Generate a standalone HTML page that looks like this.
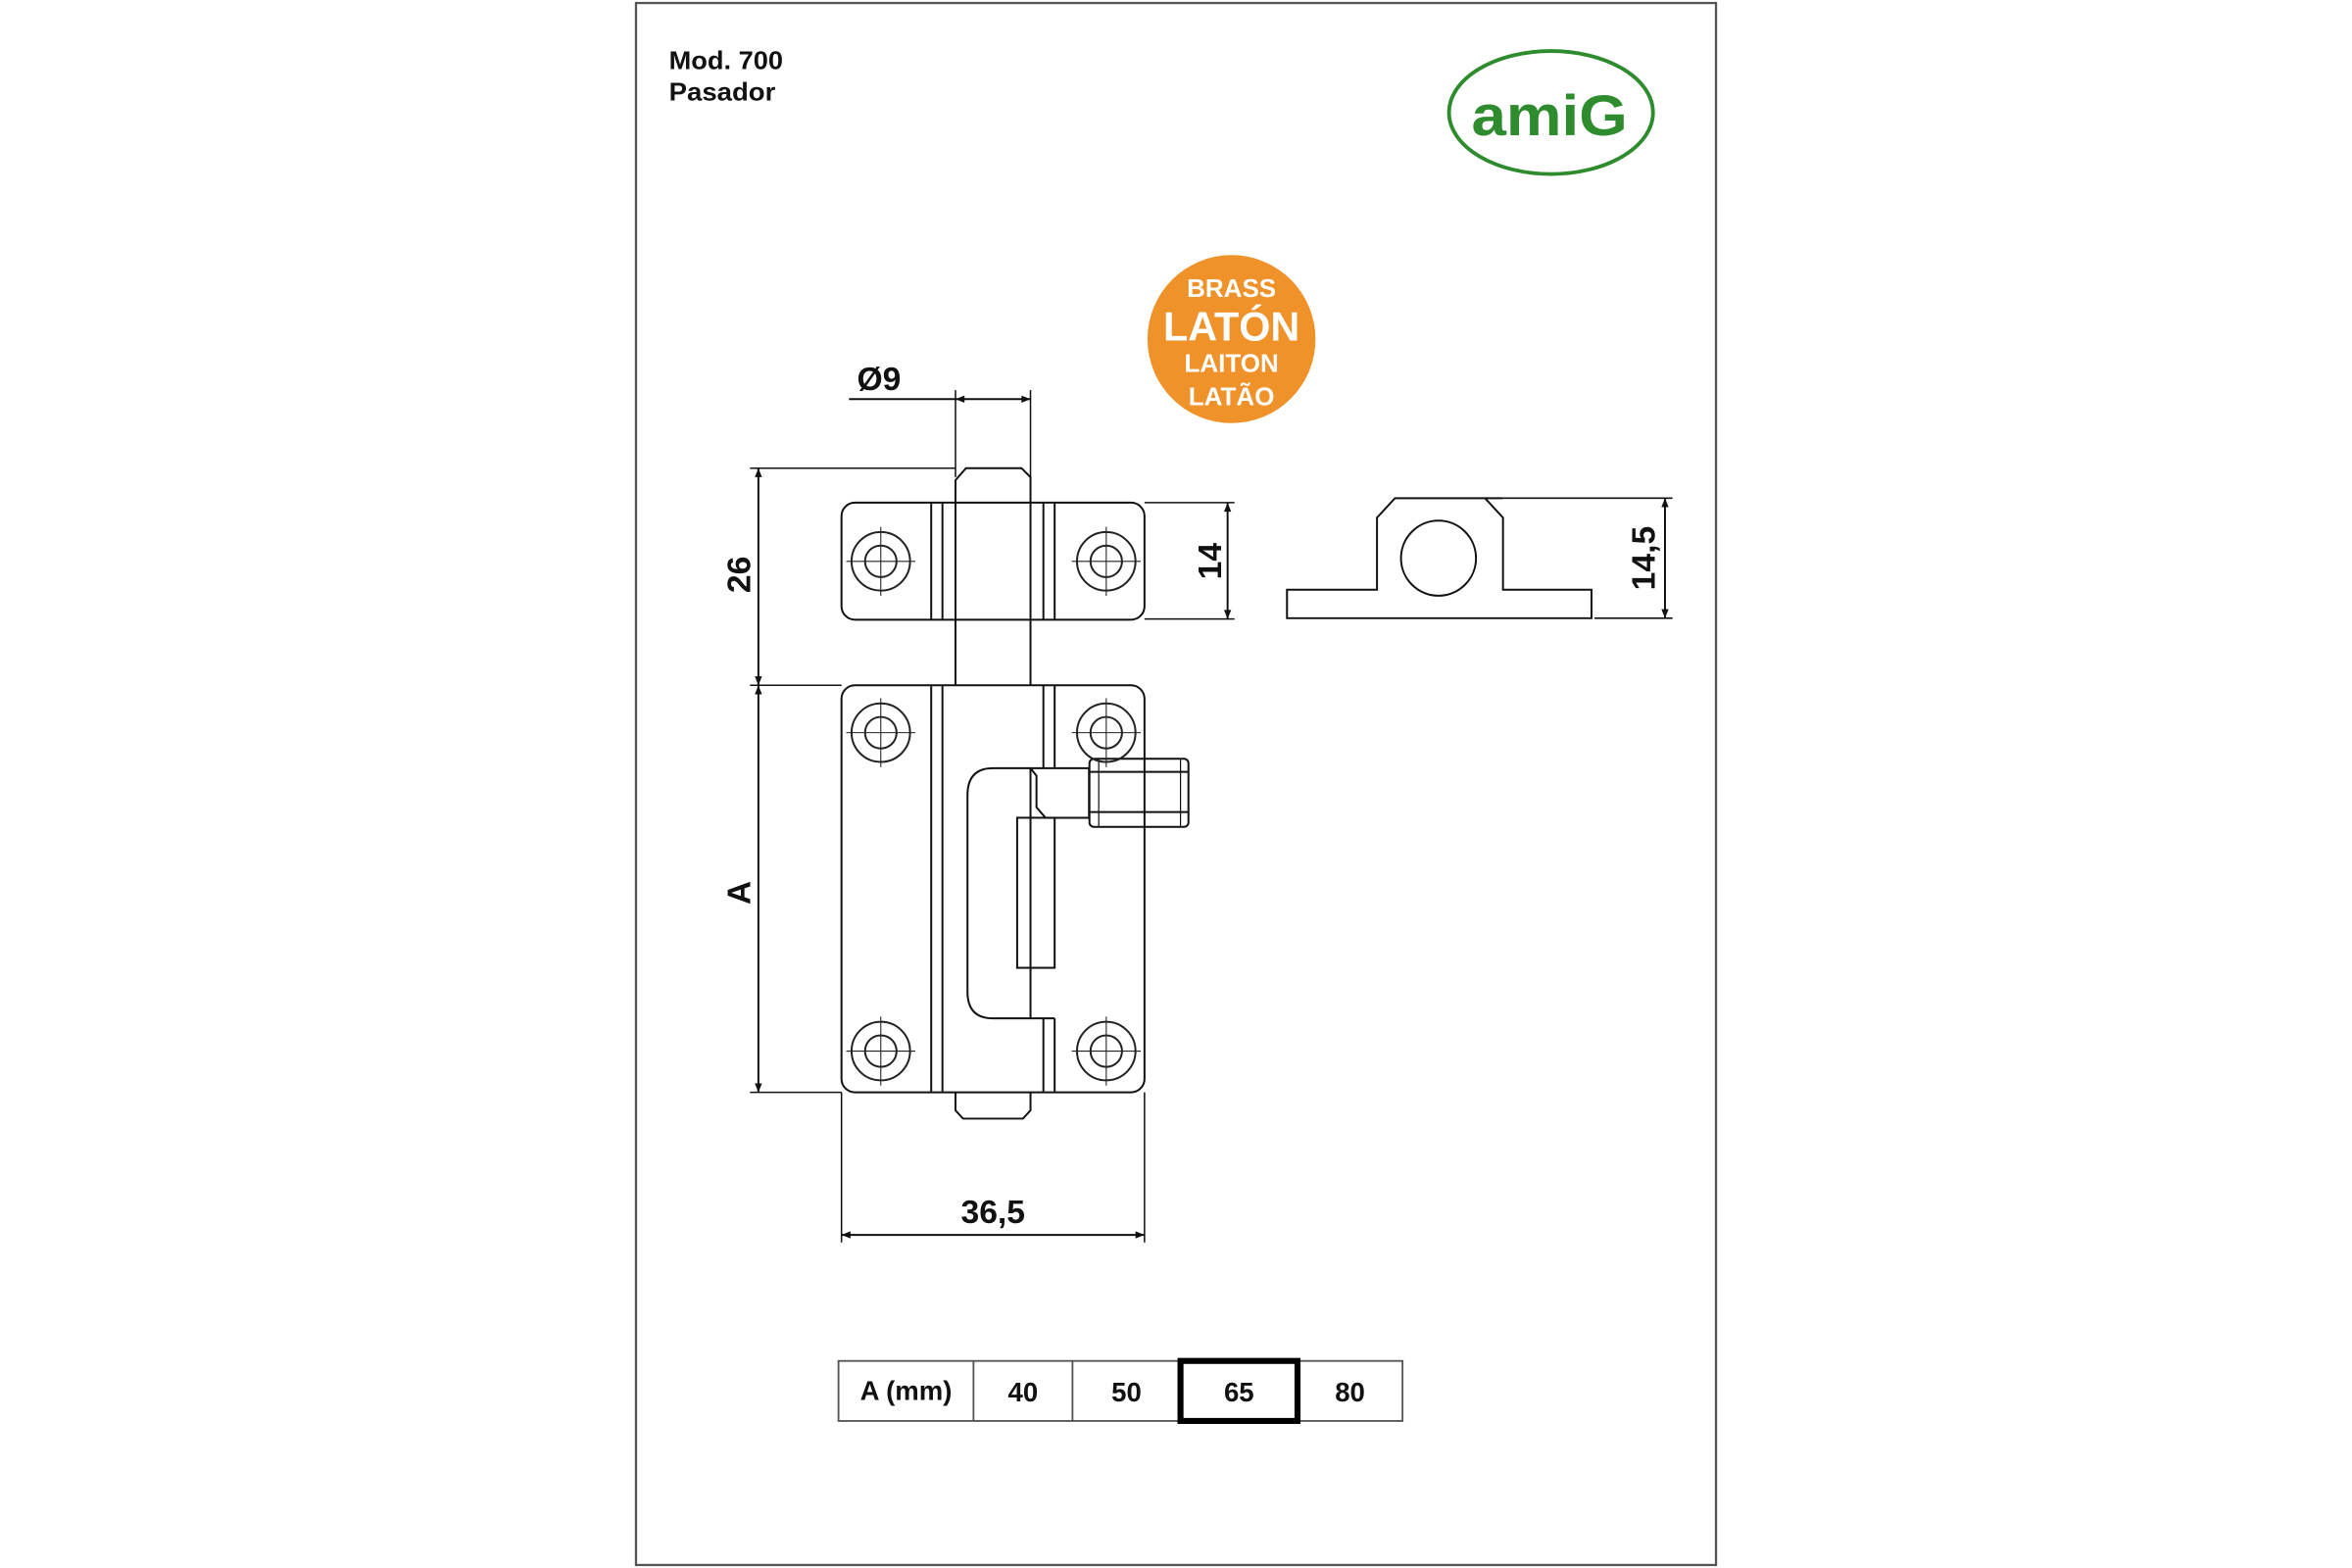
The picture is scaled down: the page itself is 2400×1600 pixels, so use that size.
<!DOCTYPE html>
<html><head><meta charset="utf-8"><style>
html,body{margin:0;padding:0;background:#fff;}
svg{display:block;}
text{font-family:"Liberation Sans",Arial,sans-serif;font-weight:bold;}
</style></head><body>
<svg width="2400" height="1600" viewBox="0 0 1568 1045" preserveAspectRatio="none" xmlns="http://www.w3.org/2000/svg">
<defs>
<marker id="ar" viewBox="0 0 10 10" refX="10" refY="5" markerWidth="8" markerHeight="6" orient="auto-start-reverse" markerUnits="userSpaceOnUse"><path d="M0,1 L10,5 L0,9 z" fill="#111"/></marker>
<g id="hole" fill="none" stroke="#222">
<circle r="19.5" stroke-width="1.3"/><circle r="10.5" stroke-width="1.3"/>
<line x1="-23" y1="0" x2="23" y2="0" stroke-width="0.7"/><line x1="0" y1="-23" x2="0" y2="23" stroke-width="0.7"/>
</g>
</defs>
<rect x="424" y="2" width="720" height="1041" fill="none" stroke="#555" stroke-width="1.5"/>
<text x="446" y="46" font-size="17" fill="#111" textLength="76" lengthAdjust="spacingAndGlyphs">Mod. 700</text>
<text x="446" y="67" font-size="17" fill="#111" textLength="71" lengthAdjust="spacingAndGlyphs">Pasador</text>
<ellipse cx="1034" cy="75" rx="68" ry="41" fill="none" stroke="#2e8b2e" stroke-width="2.5"/>
<text x="1033" y="90" font-size="38" fill="#2e8b2e" text-anchor="middle" textLength="104" lengthAdjust="spacingAndGlyphs">amiG</text>
<circle cx="821" cy="226" r="56" fill="#f0922a"/>
<text x="821" y="198" font-size="17" fill="#fff" text-anchor="middle" font-weight="normal">BRASS</text>
<text x="821" y="227" font-size="27" fill="#fff" text-anchor="middle">LATÓN</text>
<text x="821" y="248" font-size="17" fill="#fff" text-anchor="middle" font-weight="normal">LAITON</text>
<text x="821" y="270" font-size="17" fill="#fff" text-anchor="middle" font-weight="normal">LATÃO</text>
<g stroke="#111" fill="none" stroke-width="1.3">
<line x1="566" y1="266" x2="637" y2="266"/>
<line x1="637" y1="266" x2="687" y2="266" marker-start="url(#ar)" marker-end="url(#ar)"/>
<line x1="637" y1="260" x2="637" y2="318" stroke-width="1"/>
<line x1="687" y1="260" x2="687" y2="318" stroke-width="1"/>
<path d="M637,335 L637,320 L644,312 L681,312 L687,318 L687,335"/>
<line x1="637" y1="412" x2="637" y2="456.7"/>
<line x1="687" y1="412" x2="687" y2="456.7"/>
<rect x="561" y="335" width="202" height="78" rx="9"/>
<line x1="620.8" y1="335" x2="620.8" y2="413"/><line x1="628.3" y1="335" x2="628.3" y2="413"/>
<line x1="695.6" y1="335" x2="695.6" y2="413"/><line x1="703.1" y1="335" x2="703.1" y2="413"/>
<line x1="637" y1="335" x2="637" y2="413"/><line x1="687" y1="335" x2="687" y2="413"/>
<rect x="561" y="456.7" width="202" height="271.3" rx="9"/>
<line x1="620.8" y1="456.7" x2="620.8" y2="728"/><line x1="628.3" y1="456.7" x2="628.3" y2="728"/>
<line x1="695.6" y1="456.7" x2="695.6" y2="512"/><line x1="703.1" y1="456.7" x2="703.1" y2="512"/>
<line x1="695.6" y1="678.7" x2="695.6" y2="728"/><line x1="703.1" y1="678.7" x2="703.1" y2="728"/>
<path d="M637,728 L637,740 L642,745.5 L682,745.5 L687,740 L687,728"/>
<path d="M687,512 L662,512 Q645,512 645,530 L645,661 Q645,678.7 662,678.7 L703.1,678.7"/>
<line x1="687" y1="512" x2="687" y2="678.7"/>
<rect x="678.1" y="545" width="25" height="100"/>
<path d="M687,512 L726,512 L726,545 L697,545 L691,538 L691,517 Z"/>
<rect x="726.3" y="505.7" width="66" height="45.4" rx="3"/>
<line x1="726.3" y1="514.4" x2="792.3" y2="514.4"/><line x1="726.3" y1="541.2" x2="792.3" y2="541.2"/>
<line x1="732.5" y1="505.7" x2="732.5" y2="551.1" stroke-width="0.8"/><line x1="787" y1="505.7" x2="787" y2="551.1" stroke-width="0.8"/>
<line x1="500" y1="312" x2="637" y2="312" stroke-width="1"/>
<line x1="500" y1="456.7" x2="561" y2="456.7" stroke-width="1"/>
<line x1="500" y1="728" x2="561" y2="728" stroke-width="1"/>
<line x1="505.6" y1="312" x2="505.6" y2="456.7" marker-start="url(#ar)" marker-end="url(#ar)"/>
<line x1="505.6" y1="456.7" x2="505.6" y2="728" marker-start="url(#ar)" marker-end="url(#ar)"/>
<line x1="763" y1="335" x2="823" y2="335" stroke-width="1"/>
<line x1="763" y1="412.5" x2="823" y2="412.5" stroke-width="1"/>
<line x1="818.4" y1="335" x2="818.4" y2="412.5" marker-start="url(#ar)" marker-end="url(#ar)"/>
<line x1="561" y1="728" x2="561" y2="828" stroke-width="1"/>
<line x1="763" y1="728" x2="763" y2="828" stroke-width="1"/>
<line x1="561" y1="823" x2="763" y2="823" marker-start="url(#ar)" marker-end="url(#ar)"/>
<path d="M1002,332 L990,332 L930,332 L918,345 L918,393 L858,393 L858,412 L1061,412 L1061,393 L1002,393 L1002,345 L990,332"/>
<circle cx="959" cy="372" r="25"/>
<line x1="1002" y1="332" x2="1115" y2="332" stroke-width="1"/>
<line x1="1063" y1="412" x2="1115" y2="412" stroke-width="1"/>
<line x1="1110" y1="332" x2="1110" y2="412" marker-start="url(#ar)" marker-end="url(#ar)"/>
</g>
<use href="#hole" x="587.2" y="374.1"/><use href="#hole" x="737.5" y="374.1"/>
<use href="#hole" x="587.2" y="488.3"/><use href="#hole" x="737.5" y="488.3"/>
<use href="#hole" x="587.2" y="700.5"/><use href="#hole" x="737.5" y="700.5"/>
<g font-size="22" fill="#111">
<text x="586" y="260" text-anchor="middle">Ø9</text>
<text x="662" y="815" text-anchor="middle">36,5</text>
<text transform="translate(500,383) rotate(-90)" text-anchor="middle">26</text>
<text transform="translate(500,595) rotate(-90)" text-anchor="middle">A</text>
<text transform="translate(814,374) rotate(-90)" text-anchor="middle">14</text>
<text transform="translate(1103,372) rotate(-90)" text-anchor="middle">14,5</text>
</g>
<g fill="none" stroke="#555" stroke-width="1.2">
<rect x="559" y="907" width="376" height="40"/>
<line x1="649" y1="907" x2="649" y2="947"/><line x1="715" y1="907" x2="715" y2="947"/>
</g>
<rect x="787" y="907" width="78" height="40" fill="none" stroke="#000" stroke-width="4"/>
<g font-size="18" fill="#111" text-anchor="middle">
<text x="604" y="933">A (mm)</text>
<text x="682" y="934">40</text>
<text x="751" y="934">50</text>
<text x="826" y="934">65</text>
<text x="900" y="934">80</text>
</g>
</svg>
</body></html>
